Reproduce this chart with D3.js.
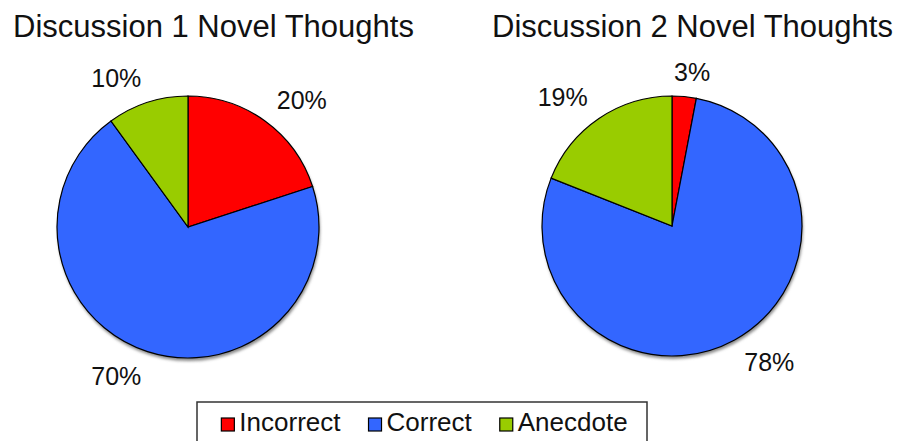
<!DOCTYPE html>
<html lang="en">
<head>
    <meta charset="UTF-8">
    <title>Novel Thoughts</title>
    <script src="https://d3js.org/d3.v7.min.js"></script>
    <style>
    body { margin: 0; background: #fff; }
    text { font-family: "Liberation Sans", Arial, sans-serif; fill: #111; }
    </style>
</head>
<body>
    <div id="container1"></div>
    <script>
    // datos
    var categorias = ["Incorrect", "Correct", "Anecdote"];
    var colores = ["#FF0000", "#3366FF", "#99CC00"];
    var titulos = ["Discussion 1 Novel Thoughts", "Discussion 2 Novel Thoughts"];
    var discusion1 = [20, 70, 10];
    var discusion2 = [3, 78, 19];

    var width = 902, height = 441;

    var svg = d3.select("div#container1")
        .append("svg")
        .attr("width", width)
        .attr("height", height)

    // sombra suave bajo las tartas
    var defs = svg.append("defs")
    defs.append("filter")
        .attr("id", "sombra")
        .attr("x", "-10%").attr("y", "-10%")
        .attr("width", "120%").attr("height", "120%")
        .append("feGaussianBlur")
        .attr("stdDeviation", 1.5)

    var escalaColor = d3.scaleOrdinal()
        .domain(categorias)
        .range(colores);

    var pie = d3.pie()
        .sort(null)
        .value(d => d.valor);

    var tartas = [
        { titulo: titulos[0], valores: discusion1, cx: 188, cy: 227, r: 131, tx: 13 },
        { titulo: titulos[1], valores: discusion2, cx: 672, cy: 226, r: 130, tx: 492 }
    ];

    tartas.forEach(function(t) {
        var datos = categorias.map((c, i) => ({ cat: c, valor: t.valores[i] }));
        var arcos = pie(datos);
        var arco = d3.arc().innerRadius(0).outerRadius(t.r);

        svg.append("text")
            .attr("x", t.tx)
            .attr("y", 37)
            .style("font-size", "31px")
            .text(t.titulo)

        var g = svg.append("g")
            .attr("transform", "translate(" + t.cx + "," + t.cy + ")")

        g.append("circle")
            .attr("cx", 1)
            .attr("cy", 3)
            .attr("r", t.r)
            .attr("fill", "#888")
            .attr("filter", "url(#sombra)")

        g.selectAll("path")
            .data(arcos)
            .enter()
            .append("path")
            .attr("d", arco)
            .attr("fill", d => escalaColor(d.data.cat))
            .attr("stroke", "#000")
            .attr("stroke-width", 1.2)

        // etiquetas fuera del borde, estilo Excel
        var rEtiqueta = t.r + 20;
        g.selectAll("text.pct")
            .data(arcos)
            .enter()
            .append("text")
            .attr("class", "pct")
            .style("font-size", "25px")
            .attr("text-anchor", "middle")
            .text(d => d.data.valor + "%")
            .each(function(d) {
                var a = (d.startAngle + d.endAngle) / 2;
                var w = this.getComputedTextLength();
                var s = Math.max(-1, Math.min(1, Math.sin(a) * 3.5));
                var x = rEtiqueta * Math.sin(a) + s * w / 2;
                var y = -rEtiqueta * Math.cos(a) - Math.sign(Math.cos(a)) * 5;
                d3.select(this).attr("x", x).attr("y", y + 9);
            })
    });

    // leyenda
    var leyenda = svg.append("g")
    leyenda.append("rect")
        .attr("x", 197)
        .attr("y", 402)
        .attr("width", 450)
        .attr("height", 50)
        .attr("fill", "#fff")
        .attr("stroke", "#333")
        .attr("stroke-width", 1.5)

    var items = leyenda.selectAll("g.item")
        .data(categorias)
        .enter()
        .append("g")
        .attr("class", "item")

    items.append("rect")
        .attr("width", 13)
        .attr("height", 13)
        .attr("y", 418)
        .attr("fill", d => escalaColor(d))
        .attr("stroke", "#000")
        .attr("stroke-width", 1.2)

    items.append("text")
        .attr("y", 431)
        .style("font-size", "26px")
        .text(d => d)

    var anchos = [];
    items.select("text").each(function() { anchos.push(this.getComputedTextLength()); });
    var hueco = 27;
    var total = d3.sum(anchos) + categorias.length * 19 + hueco * (categorias.length - 1);
    var xi = 197 + (450 - total) / 2 + 3;
    items.each(function(d, i) {
        d3.select(this).select("rect").attr("x", xi);
        d3.select(this).select("text").attr("x", xi + 18);
        xi += 19 + anchos[i] + hueco;
    });
    </script>
</body>
</html>
